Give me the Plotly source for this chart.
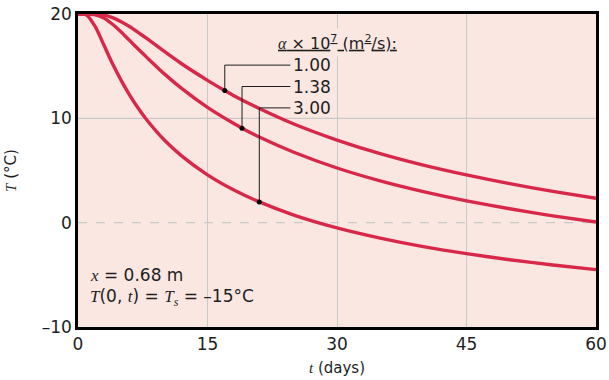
import plotly.graph_objects as go

# Time axis (days) and temperature readings (°C) for each diffusivity
days_a = [0, 1, 2, 3, 4, 5, 6, 7, 8, 10, 12, 15, 17, 18, 21, 25, 30, 35, 40, 45, 50, 55, 60]
temp_a = [20, 20, 19.99, 19.9, 19.66, 19.26, 18.78, 18.22, 17.63, 16.41, 15.23, 13.64, 12.66, 12.2, 10.94,
          9.46, 7.92, 6.62, 5.52, 4.58, 3.74, 3.0, 2.34]
days_b = [0, 1, 2, 3, 4, 5, 6, 7, 8, 10, 12, 15, 18, 19, 21, 25, 30, 35, 40, 45, 50, 55, 60]
temp_b = [20, 20, 19.93, 19.62, 19.02, 18.28, 17.45, 16.62, 15.82, 14.26, 12.87, 11.05, 9.52, 9.06, 8.21,
          6.75, 5.24, 4.01, 2.98, 2.09, 1.33, 0.65, 0.06]
days_c = [0, 0.5, 1, 2, 3, 4, 5, 6, 7, 8, 10, 12, 15, 18, 21, 25, 30, 35, 40, 45, 50, 55, 60]
temp_c = [20, 20, 19.9, 18.78, 17.02, 15.23, 13.64, 12.2, 10.94, 9.82, 7.92, 6.4, 4.58, 3.15, 1.99,
          0.73, -0.5, -1.48, -2.3, -2.97, -3.55, -4.06, -4.5]

series_labels = ["1.00", "1.38", "3.00"]
marker_days = [17, 19, 21]          # where each leader line touches its curve
x_ticks = [0, 15, 30, 45, 60]
y_ticks = [-10, 0, 10, 20]
y_tick_text = ["\u201310", "0", "10", "20"]

RED = "#D8284A"
BG = "#FAE7E1"
GRID = "#C9C9C9"
INK = "#1E1E1E"
SANS = "DejaVu Sans"


def it(s):
    return "<span style='font-family:Liberation Serif'><i>" + s + "</i></span>"


fig = go.Figure()

series = [(days_a, temp_a), (days_b, temp_b), (days_c, temp_c)]
for (d, t) in series:
    fig.add_trace(go.Scatter(x=d, y=t, mode="lines",
                             line=dict(color=RED, width=3.4, shape="spline", smoothing=0.6),
                             hoverinfo="skip", showlegend=False))

# leader lines from curve points to labels
label_x = 24.6
label_y = [15.1, 13.05, 11.0]
for (d, t), md, ly, lab in zip(series, marker_days, label_y, series_labels):
    ty = t[d.index(md)]
    fig.add_trace(go.Scatter(x=[md, md, label_x], y=[ty, ly, ly], mode="lines",
                             line=dict(color=INK, width=1), hoverinfo="skip", showlegend=False))
    fig.add_trace(go.Scatter(x=[md], y=[ty], mode="markers", marker=dict(color="black", size=5),
                             hoverinfo="skip", showlegend=False))
    fig.add_annotation(x=label_x, y=ly, text=lab, showarrow=False, xanchor="left", yanchor="middle",
                       xshift=1, font=dict(family=SANS, size=17, color=INK))

fig.add_annotation(x=30, y=17.3,
                   text="<u>" + it("\u03b1") + " \u00d7 10<sup>7</sup> (m<sup>2</sup>/s):</u>",
                   showarrow=False, xanchor="center", yanchor="middle", bgcolor=BG, borderpad=3,
                   font=dict(family=SANS, size=16, color=INK))

fig.add_annotation(xref="paper", yref="paper", x=0.02, y=0.166, xanchor="left", yanchor="middle",
                   showarrow=False, align="left", text=it("x") + " = 0.68 m",
                   font=dict(family=SANS, size=17, color=INK))
fig.add_annotation(xref="paper", yref="paper", x=0.02, y=0.093, xanchor="left", yanchor="middle",
                   showarrow=False, align="left",
                   text=it("T") + "(0, " + it("t") + ") = " + it("T<sub>s</sub>") + " = \u201315\u00b0C",
                   font=dict(family=SANS, size=17, color=INK))

# reference lines
fig.add_shape(type="line", xref="paper", x0=0, x1=1, yref="y", y0=10, y1=10,
              line=dict(color=GRID, width=1.2), layer="below")
fig.add_shape(type="line", xref="paper", x0=0, x1=1, yref="y", y0=0, y1=0,
              line=dict(color=GRID, width=1.2, dash="dash"), layer="below")

fig.update_layout(
    width=609, height=380,
    margin=dict(l=78, r=13, t=14, b=53, autoexpand=False),
    paper_bgcolor="white", plot_bgcolor=BG,
    font=dict(family=SANS, size=17, color=INK),
    xaxis=dict(range=[0, 60], tickvals=x_ticks, showgrid=True, gridcolor=GRID, gridwidth=1.2,
               zeroline=False, showline=True, linecolor="black", linewidth=2.5, mirror=True,
               ticks="", ticklen=0, automargin=False, tickfont=dict(size=17),
               title=dict(text=it("t") + " (days)", font=dict(size=15), standoff=10)),
    yaxis=dict(range=[-10, 20], tickvals=y_ticks, ticktext=y_tick_text, showgrid=False,
               zeroline=False, showline=True, linecolor="black", linewidth=2.5, mirror=True,
               ticks="", ticklen=0, automargin=False, tickfont=dict(size=17),
               title=dict(text=it("T") + " (\u00b0C)", font=dict(size=15), standoff=22)),
)

fig.write_html(
    "out.html",
    config={"displayModeBar": False},
    post_script="document.documentElement.style.margin='0';document.body.style.margin='0';"
                "document.body.style.overflow='hidden';document.documentElement.style.overflow='hidden';",
)
